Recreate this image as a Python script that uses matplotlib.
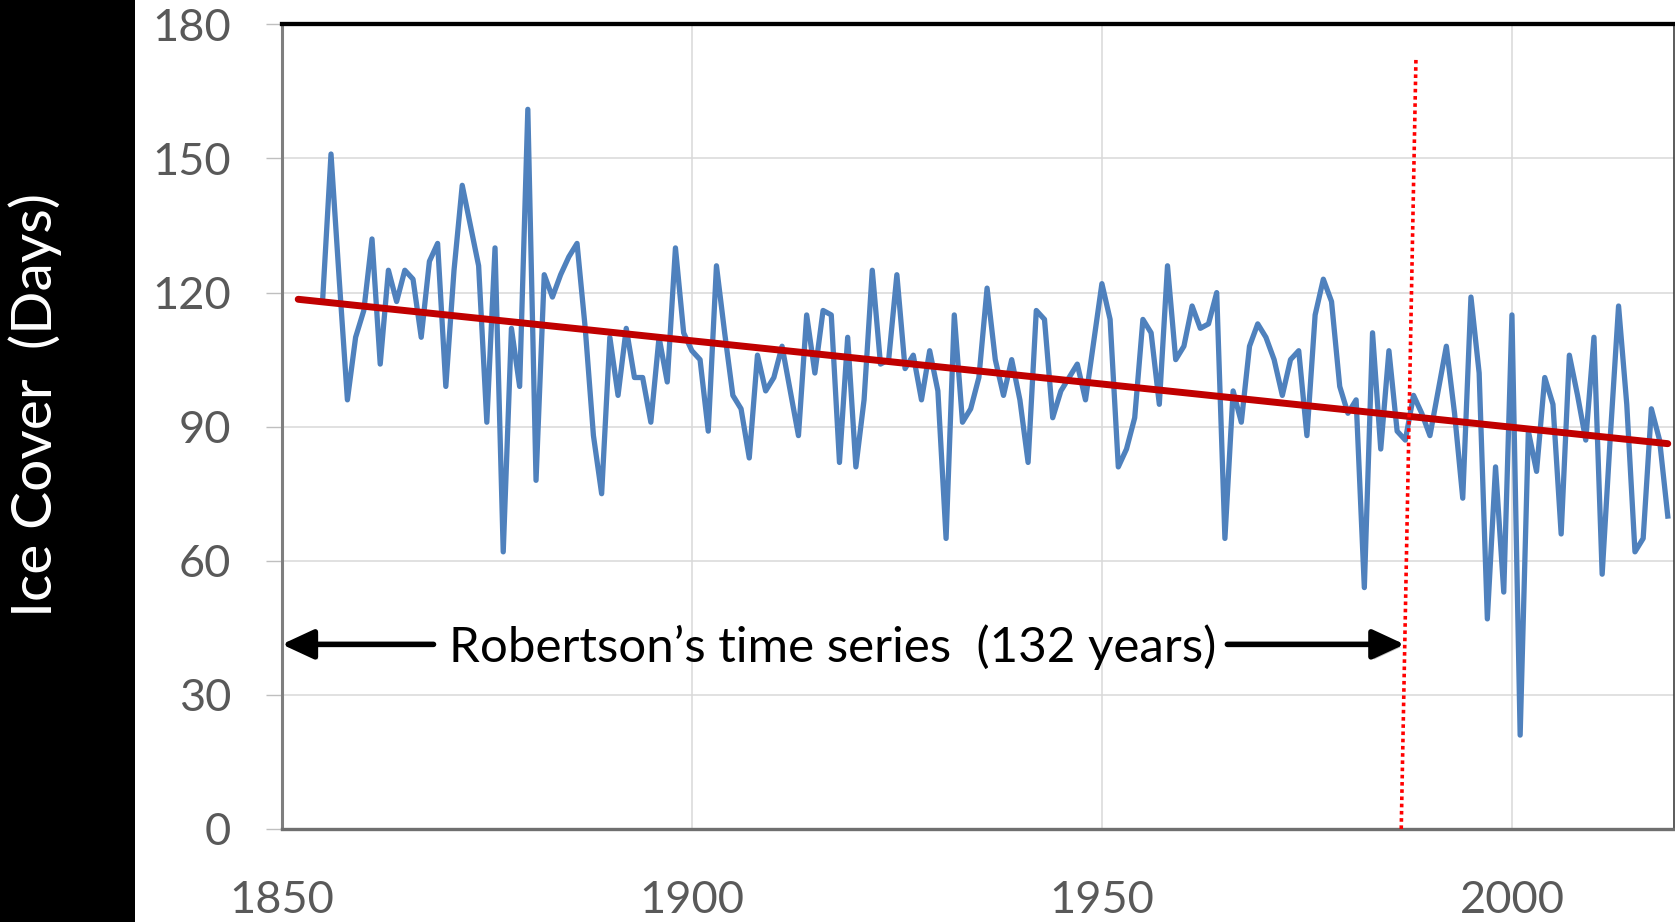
import numpy as np
import matplotlib.pyplot as plt
from matplotlib.patches import Rectangle, FancyArrowPatch
import matplotlib.patheffects as pe

years = np.arange(1855, 2020)
ice_days = [
    119, 151, 123, 96, 110, 116, 132, 104, 125, 118,   # 1855-1864
    125, 123, 110, 127, 131, 99, 125, 144, 135, 126,   # 1865-1874
    91, 130, 62, 112, 99, 161, 78, 124, 119, 124,      # 1875-1884
    128, 131, 112, 88, 75, 110, 97, 112, 101, 101,     # 1885-1894
    91, 110, 100, 130, 111, 107, 105, 89, 126, 111,    # 1895-1904
    97, 94, 83, 106, 98, 101, 108, 98, 88, 115,        # 1905-1914
    102, 116, 115, 82, 110, 81, 96, 125, 104, 105,     # 1915-1924
    124, 103, 106, 96, 107, 98, 65, 115, 91, 94,       # 1925-1934
    101, 121, 105, 97, 105, 96, 82, 116, 114, 92,      # 1935-1944
    98, 101, 104, 96, 109, 122, 114, 81, 85, 92,       # 1945-1954
    114, 111, 95, 126, 105, 108, 117, 112, 113, 120,   # 1955-1964
    65, 98, 91, 108, 113, 110, 105, 97, 105, 107,      # 1965-1974
    88, 115, 123, 118, 99, 93, 96, 54, 111, 85,        # 1975-1984
    107, 89, 87, 97, 93, 88, 98, 108, 93, 74,          # 1985-1994
    119, 102, 47, 81, 53, 115, 21, 89, 80, 101,        # 1995-2004
    95, 66, 106, 97, 87, 110, 57, 88, 117, 95,         # 2005-2014
    62, 65, 94, 87, 70,                                # 2015-2019
]

trend_years = [1852, 2019]
trend_days = [118.5, 86.2]

# end of Robertson's record
cutoff_years = [1986.5, 1988.3]
cutoff_days = [0, 172.8]

span_start, span_end = 1850, 1986.9
label_text = "Robertson\u2019s time series  (132 years)"

fig = plt.figure(figsize=(16.75, 9.22), dpi=100)
fig.patches.append(Rectangle((0, 0), 135 / 1675, 1, transform=fig.transFigure,
                             facecolor='black', edgecolor='none', zorder=0))

ax = fig.add_axes([0.16824, 0.1009, 0.83087, 0.87264])

ax.plot(years, ice_days, color='#4F81BD', lw=3.8, solid_joinstyle='round', zorder=3)
ax.plot(trend_years, trend_days, color='#C00000', lw=5, solid_capstyle='round', zorder=4)
ax.plot(cutoff_years, cutoff_days, color='#FF0000', lw=2.6, linestyle=(0, (1, 1)),
        dash_capstyle='butt', zorder=5)

# double-headed span drawn as two arrows around the label
arrow_style = dict(arrowstyle='-|>,head_length=0.97,head_width=0.45', mutation_scale=20,
                   color='black', lw=4, shrinkA=0, shrinkB=0, zorder=6)
for tail, tip in [(1868.5, span_start), (1965.3, span_end)]:
    arr = FancyArrowPatch((tail, 41.3), (tip, 41.3), **arrow_style)
    arr.set_path_effects([pe.SimplePatchShadow(offset=(2, -2), alpha=0.25), pe.Normal()])
    ax.add_patch(arr)

ax.text(1917.2, 37.4, label_text, ha='center', va='baseline', fontsize=35.5,
        family='Lato', color='black', zorder=6)

ax.set_xlim(1850, 2019.7)
ax.set_ylim(0, 180)
ax.set_xticks([1850, 1900, 1950, 2000])
ax.set_yticks(np.arange(0, 181, 30))
ax.grid(True, color='#D9D9D9', lw=1.1)
ax.set_axisbelow(True)

ax.tick_params(axis='y', length=11.5, width=1, color='#BFBFBF', pad=25,
               labelsize=32.5, labelcolor='#595959')
ax.tick_params(axis='x', length=0, pad=37, labelsize=32.5, labelcolor='#595959')
for lab in ax.get_xticklabels() + ax.get_yticklabels():
    lab.set_family('Lato')

ax.spines['top'].set_color('black')
ax.spines['top'].set_linewidth(3.1)
ax.spines['left'].set_color('#7F7F7F')
ax.spines['left'].set_linewidth(2.2)
ax.spines['bottom'].set_color('#6F6F6F')
ax.spines['bottom'].set_linewidth(2.4)
ax.spines['right'].set_color('#404040')
ax.spines['right'].set_linewidth(1.2)

fig.text(0.021, 0.561, 'Ice Cover  (Days)', rotation=90, ha='center', va='center',
         color='white', fontsize=41, family='Lato')

fig.savefig('out.png', dpi=100)
